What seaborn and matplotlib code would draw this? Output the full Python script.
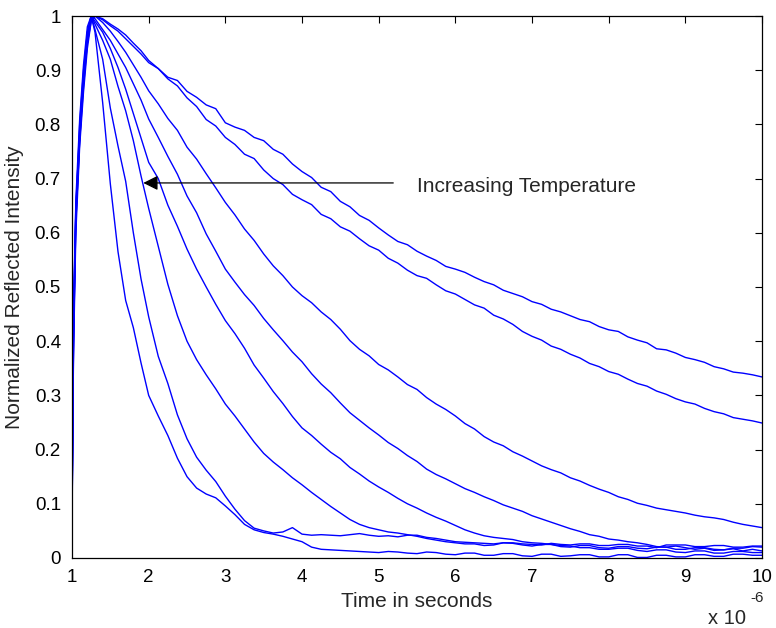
import pandas as pd
import matplotlib
matplotlib.use("Agg")
import matplotlib.pyplot as plt
import seaborn as sns

# time axis in units of 1e-6 s (shown as "x 10^-6" like the original)
TIME_US = [1.00, 1.02, 1.05, 1.10, 1.15, 1.20, 1.25, 1.30,
           1.40, 1.50, 1.60, 1.70, 1.80, 1.90,
           2.000, 2.125, 2.250, 2.375, 2.500, 2.625, 2.750, 2.875,
           3.000, 3.125, 3.250, 3.375, 3.500, 3.625, 3.750, 3.875,
           4.000, 4.125, 4.250, 4.375, 4.500, 4.625, 4.750, 4.875,
           5.000, 5.125, 5.250, 5.375, 5.500, 5.625, 5.750, 5.875,
           6.000, 6.125, 6.250, 6.375, 6.500, 6.625, 6.750, 6.875,
           7.000, 7.125, 7.250, 7.375, 7.500, 7.625, 7.750, 7.875,
           8.000, 8.125, 8.250, 8.375, 8.500, 8.625, 8.750, 8.875,
           9.000, 9.125, 9.250, 9.375, 9.500, 9.625, 9.750, 9.875,
           10.0]

# normalized reflected intensity, slowest decay (lowest temperature) first
CURVE_1 = [0.07, 0.40, 0.62, 0.77, 0.87, 0.95, 0.99, 1.00,
           0.995, 0.985, 0.976, 0.965, 0.950, 0.936,
           0.918, 0.903, 0.887, 0.881, 0.861, 0.850, 0.836, 0.829,
           0.803, 0.795, 0.789, 0.776, 0.770, 0.754, 0.745, 0.727,
           0.713, 0.702, 0.684, 0.676, 0.658, 0.648, 0.632, 0.623,
           0.609, 0.596, 0.584, 0.578, 0.566, 0.557, 0.549, 0.538,
           0.533, 0.527, 0.518, 0.510, 0.504, 0.494, 0.488, 0.482,
           0.473, 0.468, 0.459, 0.454, 0.447, 0.440, 0.436, 0.427,
           0.421, 0.418, 0.408, 0.402, 0.397, 0.386, 0.384, 0.378,
           0.370, 0.366, 0.361, 0.353, 0.349, 0.343, 0.341, 0.338,
           0.334]
CURVE_2 = [0.10, 0.38, 0.60, 0.76, 0.86, 0.94, 0.99, 1.00,
           0.993, 0.982, 0.972, 0.958, 0.944, 0.930,
           0.914, 0.903, 0.884, 0.871, 0.849, 0.833, 0.809, 0.797,
           0.776, 0.763, 0.745, 0.737, 0.716, 0.700, 0.689, 0.671,
           0.661, 0.652, 0.634, 0.626, 0.611, 0.603, 0.589, 0.576,
           0.568, 0.553, 0.544, 0.531, 0.521, 0.516, 0.504, 0.493,
           0.487, 0.477, 0.467, 0.461, 0.448, 0.441, 0.431, 0.418,
           0.409, 0.402, 0.391, 0.385, 0.376, 0.369, 0.359, 0.353,
           0.344, 0.339, 0.330, 0.322, 0.317, 0.308, 0.302, 0.294,
           0.288, 0.284, 0.276, 0.270, 0.266, 0.259, 0.256, 0.253,
           0.249]
CURVE_3 = [0.05, 0.42, 0.63, 0.78, 0.88, 0.95, 0.995, 1.00,
           0.988, 0.972, 0.953, 0.933, 0.910, 0.887,
           0.862, 0.838, 0.811, 0.789, 0.758, 0.736, 0.709, 0.683,
           0.656, 0.633, 0.607, 0.586, 0.561, 0.539, 0.521, 0.500,
           0.484, 0.471, 0.454, 0.440, 0.422, 0.401, 0.385, 0.373,
           0.357, 0.347, 0.334, 0.320, 0.311, 0.296, 0.284, 0.274,
           0.262, 0.248, 0.238, 0.224, 0.214, 0.207, 0.196, 0.188,
           0.179, 0.170, 0.163, 0.157, 0.148, 0.142, 0.134, 0.127,
           0.121, 0.113, 0.108, 0.101, 0.097, 0.092, 0.089, 0.086,
           0.083, 0.079, 0.076, 0.074, 0.071, 0.066, 0.062, 0.059,
           0.056]
CURVE_4 = [0.12, 0.44, 0.64, 0.78, 0.88, 0.96, 1.00, 0.995,
           0.975, 0.955, 0.930, 0.905, 0.875, 0.845,
           0.810, 0.776, 0.741, 0.708, 0.668, 0.637, 0.598, 0.566,
           0.533, 0.509, 0.486, 0.466, 0.442, 0.421, 0.401, 0.380,
           0.362, 0.340, 0.321, 0.305, 0.286, 0.268, 0.254, 0.240,
           0.227, 0.213, 0.202, 0.189, 0.178, 0.164, 0.154, 0.146,
           0.137, 0.128, 0.121, 0.113, 0.106, 0.098, 0.092, 0.086,
           0.078, 0.072, 0.066, 0.060, 0.054, 0.049, 0.043, 0.040,
           0.035, 0.033, 0.030, 0.028, 0.025, 0.021, 0.020, 0.022,
           0.019, 0.016, 0.018, 0.014, 0.015, 0.017, 0.013, 0.016,
           0.013]
CURVE_5 = [0.08, 0.41, 0.62, 0.77, 0.89, 0.96, 1.00, 0.99,
           0.970, 0.940, 0.905, 0.865, 0.820, 0.775,
           0.730, 0.700, 0.651, 0.612, 0.570, 0.533, 0.500, 0.468,
           0.438, 0.414, 0.387, 0.356, 0.332, 0.307, 0.285, 0.261,
           0.240, 0.226, 0.210, 0.195, 0.183, 0.167, 0.155, 0.142,
           0.131, 0.121, 0.110, 0.100, 0.092, 0.083, 0.075, 0.068,
           0.060, 0.052, 0.046, 0.041, 0.038, 0.036, 0.034, 0.030,
           0.028, 0.027, 0.025, 0.023, 0.022, 0.019, 0.019, 0.016,
           0.016, 0.018, 0.018, 0.014, 0.012, 0.015, 0.015, 0.011,
           0.010, 0.013, 0.013, 0.009, 0.009, 0.012, 0.012, 0.010,
           0.010]
CURVE_6 = [0.14, 0.45, 0.65, 0.79, 0.89, 0.97, 1.00, 0.985,
           0.955, 0.920, 0.870, 0.825, 0.770, 0.705,
           0.645, 0.575, 0.505, 0.447, 0.400, 0.366, 0.338, 0.312,
           0.284, 0.262, 0.238, 0.214, 0.193, 0.177, 0.163, 0.148,
           0.135, 0.121, 0.108, 0.095, 0.083, 0.071, 0.062, 0.056,
           0.052, 0.048, 0.046, 0.043, 0.040, 0.036, 0.033, 0.030,
           0.028, 0.026, 0.026, 0.023, 0.024, 0.028, 0.027, 0.024,
           0.022, 0.025, 0.025, 0.021, 0.020, 0.023, 0.023, 0.019,
           0.018, 0.021, 0.021, 0.018, 0.017, 0.020, 0.020, 0.016,
           0.016, 0.019, 0.019, 0.016, 0.015, 0.018, 0.018, 0.021,
           0.020]
CURVE_7 = [0.06, 0.43, 0.64, 0.80, 0.90, 0.97, 1.00, 0.975,
           0.920, 0.830, 0.760, 0.695, 0.600, 0.515,
           0.445, 0.372, 0.322, 0.264, 0.220, 0.186, 0.162, 0.141,
           0.114, 0.090, 0.069, 0.055, 0.050, 0.046, 0.048, 0.056,
           0.044, 0.042, 0.043, 0.042, 0.041, 0.043, 0.045, 0.042,
           0.040, 0.041, 0.039, 0.042, 0.042, 0.038, 0.036, 0.033,
           0.030, 0.029, 0.028, 0.027, 0.026, 0.028, 0.028, 0.026,
           0.025, 0.024, 0.027, 0.025, 0.024, 0.026, 0.026, 0.023,
           0.023, 0.025, 0.025, 0.022, 0.022, 0.019, 0.024, 0.024,
           0.024, 0.021, 0.021, 0.023, 0.023, 0.020, 0.020, 0.022,
           0.022]
CURVE_8 = [0.09, 0.46, 0.66, 0.81, 0.91, 0.98, 1.00, 0.970,
           0.840, 0.690, 0.565, 0.475, 0.425, 0.360,
           0.300, 0.262, 0.226, 0.184, 0.150, 0.129, 0.118, 0.111,
           0.096, 0.080, 0.062, 0.052, 0.047, 0.044, 0.040, 0.035,
           0.030, 0.020, 0.016, 0.015, 0.014, 0.013, 0.012, 0.011,
           0.010, 0.012, 0.011, 0.009, 0.008, 0.011, 0.010, 0.007,
           0.006, 0.009, 0.009, 0.005, 0.005, 0.008, 0.008, 0.004,
           0.003, 0.007, 0.007, 0.003, 0.004, 0.006, 0.006, 0.002,
           0.002, 0.006, 0.006, 0.001, 0.001, 0.005, 0.005, 0.002,
           0.002, 0.006, 0.006, 0.003, 0.003, 0.007, 0.007, 0.005,
           0.005]

CURVES = [CURVE_1, CURVE_2, CURVE_3, CURVE_4, CURVE_5, CURVE_6, CURVE_7, CURVE_8]

X_TICKS = [1, 2, 3, 4, 5, 6, 7, 8, 9, 10]
Y_TICKS = [0, 0.1, 0.2, 0.3, 0.4, 0.5, 0.6, 0.7, 0.8, 0.9, 1]
Y_TICK_LABELS = ["0", "0.1", "0.2", "0.3", "0.4", "0.5", "0.6", "0.7", "0.8", "0.9", "1"]

# long-form table for seaborn
frames = []
for i, vals in enumerate(CURVES):
    frames.append(pd.DataFrame({"time": TIME_US, "intensity": vals, "curve": i + 1}))
df = pd.concat(frames, ignore_index=True)

sns.set_style("white")
plt.rcParams["font.family"] = ["Liberation Sans", "DejaVu Sans"]

fig, ax = plt.subplots(figsize=(7.76, 6.28), dpi=100)
fig.subplots_adjust(left=0.0928, right=0.982, bottom=0.1115, top=0.9745)

sns.lineplot(data=df, x="time", y="intensity", units="curve", estimator=None,
             color="#0000ff", linewidth=1.0, sort=False, ax=ax)

ax.set_xlim(1, 10)
ax.set_ylim(0, 1)
ax.set_xticks(X_TICKS)
ax.set_xticklabels([str(t) for t in X_TICKS])
ax.set_yticks(Y_TICKS)
ax.set_yticklabels(Y_TICK_LABELS)
ax.tick_params(direction="in", top=True, right=True, length=5, width=0.8,
               labelsize=13.5, colors="black", pad=8)
for sp in ax.spines.values():
    sp.set_color("black")
    sp.set_linewidth(0.9)

ax.set_xlabel("Time in seconds", fontsize=15, labelpad=4)
ax.set_ylabel("Normalized Reflected Intensity", fontsize=15, labelpad=8)

# arrow + annotation
ax.annotate("", xy=(1.93, 0.692), xytext=(5.19, 0.692),
            arrowprops=dict(arrowstyle="-|>", color="black", lw=0.9,
                            mutation_scale=22, shrinkA=0, shrinkB=0))
ax.text(5.5, 0.686, "Increasing Temperature", fontsize=15, va="center", ha="left")

# MATLAB-style exponent label
fig.text(0.913, 0.0, "x 10", fontsize=14.5, ha="left", va="bottom")
fig.text(0.967, 0.036, "-6", fontsize=11, ha="left", va="bottom")

fig.savefig("out.png", dpi=100, facecolor="white")
